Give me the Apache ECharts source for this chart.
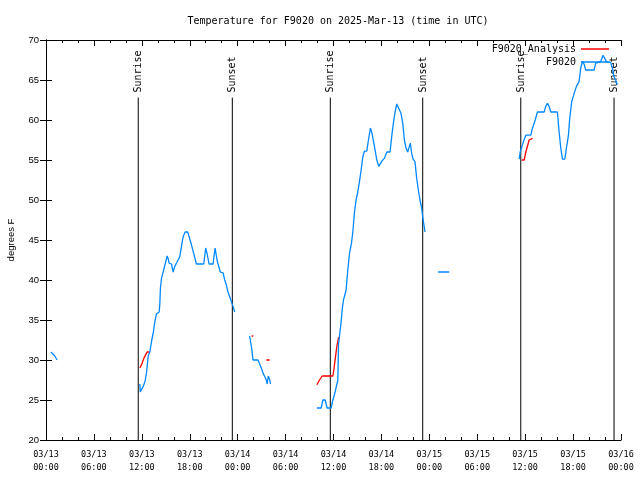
<!DOCTYPE html>
<html><head><meta charset="utf-8">
<script src="https://cdn.jsdelivr.net/npm/echarts@6/dist/echarts.min.js"></script>
<style>html,body{margin:0;padding:0;background:#fff}#c{width:640px;height:480px}</style>
</head><body><div id="c"></div>
<script>
// time = hours since 2025-03-13 00:00 UTC
const xTickLabels = ['03/13\n00:00','03/13\n06:00','03/13\n12:00','03/13\n18:00','03/14\n00:00','03/14\n06:00','03/14\n12:00','03/14\n18:00','03/15\n00:00','03/15\n06:00','03/15\n12:00','03/15\n18:00','03/16\n00:00'];

const obsSeg1 = [[0.6,31],[0.85,31],[1.1,30.5],[1.4,30]];
const obsSeg2 = [[11.75,27],[11.8,26],[12.0,26],[12.17,26.7],[12.4,27.3],[12.6,28.5],[12.8,30.5],[13.0,31],[13.25,32.5],[13.45,33.5],[13.63,34.8],[13.83,35.75],[14.17,36],[14.25,37],[14.33,39],[14.46,40.2],[14.67,41],[14.92,41],[15.0,42.3],[15.17,43],[15.29,42.7],[15.42,42.1],[15.71,42],[15.92,41],[16.13,41.7],[16.33,42.1],[16.54,42.1],[16.75,42.9],[16.96,44.2],[17.17,45.4],[17.42,46],[17.75,46],[17.92,45.4],[18.21,44.4],[18.5,43.3],[18.83,42],[19.75,42],[20.0,44],[20.17,43.3],[20.42,42],[20.92,42],[21.17,44],[21.42,42.5],[21.54,42],[21.83,41],[22.17,40.9],[22.38,40],[22.58,39.4],[22.79,38.5],[23.0,37.9],[23.21,37.3],[23.42,36.7],[23.63,36]];
const obsSeg3 = [[25.5,33],[25.75,31.5],[25.92,30],[26.54,30],[26.79,29.75],[26.96,29],[27.2,28.3],[27.4,27.9],[27.58,27.5],[27.7,27],[27.83,28],[28.0,27.6],[28.1,27]];
const obsSeg4 = [[33.92,24],[34.46,24],[34.67,25],[34.96,25],[35.2,24],[35.7,24],[35.92,25],[36.2,26],[36.4,26],[36.54,27.5],[36.63,32],[36.83,32],[36.96,34.8],[37.08,36.25],[37.25,37.5],[37.58,38.75],[37.79,41.25],[38.0,43.3],[38.25,44.6],[38.42,46],[38.63,48.5],[38.83,50],[39.04,51],[39.25,52.3],[39.46,53.75],[39.67,55.4],[39.875,56.1],[40.17,56.1],[40.375,57.5],[40.625,59],[40.83,58.3],[41.125,56.7],[41.42,55],[41.67,54.2],[41.92,54.2],[42.08,54.9],[42.375,55.2],[42.67,56],[43.08,56],[43.33,58.3],[43.5,59.6],[43.71,61],[43.92,62],[44.17,62],[44.46,60.8],[44.67,59.6],[44.875,57.5],[45.08,56.5],[45.29,56],[45.5,56.7],[45.625,57.1],[45.79,55.8],[45.96,55.1],[46.2,54.8],[46.42,52.7],[46.625,51.25],[46.83,50],[47.04,49],[47.17,47.9],[47.29,47.1],[47.46,46]];
const obsSeg5 = [[49.1,41],[50.5,41]];
const obsSeg6 = [[59.25,55.1],[59.375,56],[59.58,56],[59.79,57.3],[60.08,58.1],[60.71,58.1],[60.92,59],[61.25,60],[61.54,61],[62.375,61],[62.58,61.7],[62.79,62.1],[63.0,61.7],[63.21,61],[64.04,61],[64.25,58.5],[64.46,56.5],[64.67,55.1],[64.96,55.1],[65.17,56.5],[65.42,58.1],[65.58,60.2],[65.83,62.3],[66.125,63.3],[66.42,64.2],[66.75,64.8],[66.96,66.5],[67.17,67.3],[67.375,67],[67.58,66.25],[68.625,66.25],[68.83,67.1],[69.46,67.3],[69.75,68.1],[70.0,68.1],[70.17,67.3],[70.7,67.2],[70.92,66.5],[71.125,65.4],[71.33,65],[71.54,64.4]];

const anaSeg1 = [[11.75,29],[12.0,29.5],[12.25,30.2],[12.5,30.7],[12.67,31],[13.0,31]];
const anaSeg2 = [[25.75,33],[25.96,33]];
const anaSeg3 = [[27.6,30],[28.0,30]];
const anaSeg4 = [[33.92,26.9],[34.25,27.5],[34.58,28],[35.92,28],[36.04,28.75],[36.25,30.4],[36.42,31.7],[36.63,32.8],[36.83,32.8]];
const anaSeg5 = [[59.58,55],[59.875,55],[60.08,56],[60.5,57.5],[60.71,57.7],[60.92,57.7]];

const sunTimes = [11.55, 23.33, 35.6, 47.17, 59.45, 71.13];
const sunLabels = ['Sunrise','Sunset','Sunrise','Sunset','Sunrise','Sunset'];

function joinSegs(segs){
  const out = [];
  segs.forEach((s, i) => {
    if (i) out.push([(segs[i-1][segs[i-1].length-1][0] + s[0][0]) / 2, '-']);
    s.forEach(p => out.push(p));
  });
  return out;
}
const MONO = 'DejaVu Sans Mono';
const SANS = 'Liberation Sans';

const chart = echarts.init(document.getElementById('c'), null, {renderer: 'canvas'});
const axisBase = {
  type: 'value', min: 0, max: 72, interval: 6,
  axisLine: {show: true, lineStyle: {color: '#000', width: 1}},
  axisTick: {show: true, inside: true, length: 6, lineStyle: {color: '#000'}},
  minorTick: {show: true, splitNumber: 3, length: 3, lineStyle: {color: '#000'}},
  splitLine: {show: false}, minorSplitLine: {show: false}
};
chart.setOption({
  animation: false,
  backgroundColor: '#fff',
  title: {
    text: 'Temperature for F9020 on 2025-Mar-13 (time in UTC)',
    left: 333, top: 11, textAlign: 'center',
    textStyle: {fontFamily: MONO, fontSize: 10, fontWeight: 'normal', color: '#000'}
  },
  legend: [
    {data: ['F9020_Analysis'], right: 31, top: 44, align: 'right', padding: 0, icon: 'rect', itemWidth: 28, itemHeight: 1.5,
     textStyle: {fontFamily: MONO, fontSize: 10, color: '#000'}},
    {data: ['F9020'], right: 31, top: 57, align: 'right', padding: 0, icon: 'rect', itemWidth: 28, itemHeight: 1.5,
     textStyle: {fontFamily: MONO, fontSize: 10, color: '#000'}}
  ],
  grid: {left: 46, right: 19, top: 40, bottom: 40, containLabel: false, outerBoundsMode: 'none'},
  xAxis: [
    Object.assign({}, axisBase, {position: 'bottom',
      axisLabel: {formatter: v => xTickLabels[Math.round(v / 6)], fontFamily: MONO, fontSize: 8.5, lineHeight: 13, color: '#000', margin: 8}}),
    Object.assign({}, axisBase, {position: 'top', axisLabel: {show: false}})
  ],
  yAxis: [
    {type: 'value', min: 20, max: 70, interval: 5, position: 'left',
     name: 'degrees F', nameLocation: 'middle', nameRotate: 90, nameGap: 30,
     nameTextStyle: {fontFamily: SANS, fontSize: 9.5, color: '#000'},
     axisLine: {show: true, lineStyle: {color: '#000', width: 1}},
     axisTick: {show: true, inside: true, length: 6, lineStyle: {color: '#000'}},
     axisLabel: {fontFamily: SANS, fontSize: 9.5, color: '#000', margin: 7},
     splitLine: {show: false}},
    {type: 'value', min: 20, max: 70, interval: 5, position: 'right',
     axisLine: {show: true, lineStyle: {color: '#000', width: 1}},
     axisTick: {show: true, inside: true, length: 6, lineStyle: {color: '#000'}},
     axisLabel: {show: false}, splitLine: {show: false}}
  ],
  series: [
    {
      type: 'custom', name: 'sun', xAxisIndex: 0, yAxisIndex: 0, silent: true,
      data: sunTimes.map((t, i) => [t, i]),
      encode: {x: 0},
      renderItem: function (params, api) {
        const x = api.coord([api.value(0), 20])[0];
        const yb = api.coord([0, 20])[1];
        const yt = api.coord([0, 62.8])[1];
        return {type: 'group', children: [
          {type: 'line', shape: {x1: x, y1: yb, x2: x, y2: yt}, style: {stroke: '#000', lineWidth: 1}},
          {type: 'text', x: x + 0.5, y: yt - 5, rotation: Math.PI / 2,
           style: {text: sunLabels[api.value(1)], textAlign: 'left', textVerticalAlign: 'middle', font: '10px "DejaVu Sans Mono"', fill: '#000'}}
        ]};
      }
    },
    {type: 'line', name: 'F9020_Analysis', data: joinSegs([anaSeg1, anaSeg2, anaSeg3, anaSeg4, anaSeg5]),
     showSymbol: false, symbol: 'none', connectNulls: false, color: '#ff0000', lineStyle: {color: '#ff0000', width: 1.3}},
    {type: 'line', name: 'F9020', data: joinSegs([obsSeg1, obsSeg2, obsSeg3, obsSeg4, obsSeg5, obsSeg6]),
     showSymbol: false, symbol: 'none', connectNulls: false, color: '#0088ff', lineStyle: {color: '#0088ff', width: 1.3}}
  ]
});
</script></body></html>
